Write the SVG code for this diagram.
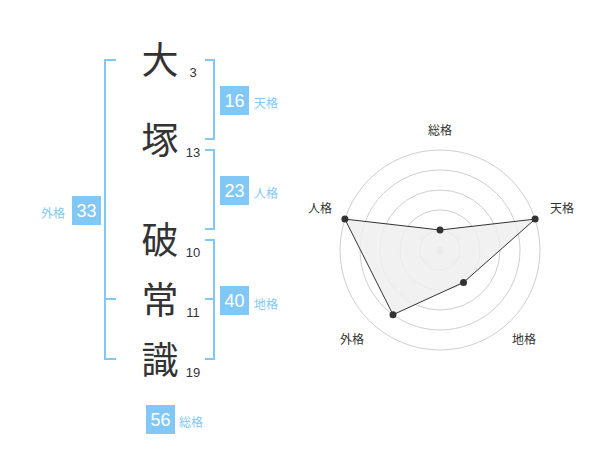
<svg xmlns="http://www.w3.org/2000/svg" width="600" height="470" viewBox="0 0 600 470">
<style>
.kanji{font-family:"Noto Sans CJK JP","Noto Sans CJK SC",sans-serif;font-size:37px;fill:#333;text-anchor:middle}
.num{font-family:"Liberation Sans",Arial,sans-serif;font-size:13px;fill:#333;text-anchor:middle}
.br{fill:none;stroke:#82c8f7;stroke-width:2}
.box{fill:#82c8f7}
.bn{font-family:"Liberation Sans",Arial,sans-serif;font-size:18px;fill:#fff;text-anchor:middle}
.bl{font-family:"Noto Sans CJK JP","Noto Sans CJK SC",sans-serif;font-size:12px;fill:#82c8f7}
.ring{fill:none;stroke:#cfcfcf;stroke-width:1}
.rl{font-family:"Noto Sans CJK JP","Noto Sans CJK SC",sans-serif;font-size:12px;fill:#333;text-anchor:middle}
.pt{fill:#333}
</style>
<rect width="600" height="470" fill="#fff"/>
<g id="chars">
<g id="c1"><text class="kanji" x="160" y="74">大</text><text class="num" x="193" y="77">3</text></g>
<g id="c2"><text class="kanji" x="160" y="154">塚</text><text class="num" x="193" y="157">13</text></g>
<g id="c3"><text class="kanji" x="160" y="254">破</text><text class="num" x="193" y="257">10</text></g>
<g id="c4"><text class="kanji" x="160" y="314">常</text><text class="num" x="193" y="317">11</text></g>
<g id="c5"><text class="kanji" x="160" y="374">識</text><text class="num" x="193" y="377">19</text></g>
</g>
<g id="connectors">
<path class="br" d="M116,60 H105 V359 H116 M105,299 H116"/>
<path class="br" d="M205,60 H214 V139 H205"/>
<path class="br" d="M205,150 H214 V229 H205"/>
<path class="br" d="M205,240 H214 V359 H205 M205,299 H214"/>
</g>
<g id="tenkaku"><rect class="box" x="220" y="86" width="29" height="29"/><text class="bn" x="234.5" y="107">16</text><text class="bl" x="254" y="108">天格</text></g>
<g id="jinkaku"><rect class="box" x="220" y="176" width="29" height="29"/><text class="bn" x="234.5" y="197">23</text><text class="bl" x="254" y="198">人格</text></g>
<g id="chikaku"><rect class="box" x="220" y="286" width="29" height="29"/><text class="bn" x="234.5" y="307">40</text><text class="bl" x="254" y="309">地格</text></g>
<g id="gaikaku"><rect class="box" x="72" y="196" width="29" height="29"/><text class="bn" x="86.5" y="217">33</text><text class="bl" x="41" y="218">外格</text></g>
<g id="soukaku"><rect class="box" x="146" y="405" width="29" height="29"/><text class="bn" x="160.5" y="426">56</text><text class="bl" x="179" y="427">総格</text></g>
<g id="radar">
<circle class="ring" cx="440" cy="250" r="20"/>
<circle class="ring" cx="440" cy="250" r="40"/>
<circle class="ring" cx="440" cy="250" r="60"/>
<circle class="ring" cx="440" cy="250" r="80"/>
<circle class="ring" cx="440" cy="250" r="100"/>
<circle cx="440" cy="250" r="3.5" fill="#cccccc"/>
<polygon points="440,230 535.1,219.1 463.5,282.4 393,314.7 344.9,219.1" fill="#efefef" fill-opacity="0.85" stroke="#333" stroke-width="1"/>
<circle class="pt" cx="440" cy="230" r="3.5"/>
<circle class="pt" cx="535.1" cy="219.1" r="3.5"/>
<circle class="pt" cx="463.5" cy="282.4" r="3.5"/>
<circle class="pt" cx="393" cy="314.7" r="3.5"/>
<circle class="pt" cx="344.9" cy="219.1" r="3.5"/>
<text class="rl" x="440" y="135">総格</text>
<text class="rl" x="562" y="213">天格</text>
<text class="rl" x="320" y="213">人格</text>
<text class="rl" x="352" y="344">外格</text>
<text class="rl" x="524" y="344">地格</text>
</g>
</svg>
